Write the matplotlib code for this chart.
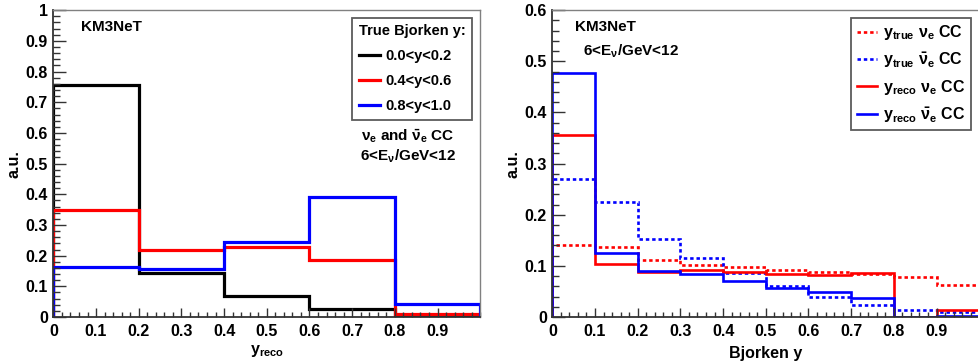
import numpy as np
import matplotlib
matplotlib.use("Agg")
import matplotlib.pyplot as plt
from matplotlib.ticker import MultipleLocator, FormatStrFormatter

plt.rcParams['font.family'] = ['Liberation Sans', 'DejaVu Sans']
plt.rcParams['font.weight'] = 'bold'
plt.rcParams['mathtext.fontset'] = 'custom'
plt.rcParams['mathtext.rm'] = 'Liberation Sans:bold'
plt.rcParams['mathtext.it'] = 'Liberation Sans:bold'
plt.rcParams['mathtext.bf'] = 'Liberation Sans:bold'

# Left panel: y_reco distributions for true Bjorken y ranges
edges_left = [0.0, 0.2, 0.4, 0.6, 0.8, 1.0]
left_labels = ["0.0<y<0.2", "0.4<y<0.6", "0.8<y<1.0"]
left_colors = ["black", "#ff0000", "#0000ff"]
y_low = [0.755, 0.144, 0.069, 0.025, 0.002]
y_mid = [0.350, 0.220, 0.228, 0.187, 0.009]
y_high = [0.163, 0.155, 0.243, 0.390, 0.043]

# Right panel: true vs reco Bjorken y
edges_right = [0.0, 0.1, 0.2, 0.3, 0.4, 0.5, 0.6, 0.7, 0.8, 0.9, 1.0]
true_nue = [0.141, 0.137, 0.112, 0.101, 0.098, 0.092, 0.088, 0.084, 0.078, 0.063]
true_nuebar = [0.270, 0.224, 0.153, 0.115, 0.087, 0.060, 0.039, 0.023, 0.014, 0.009]
reco_nue = [0.355, 0.103, 0.089, 0.092, 0.088, 0.085, 0.083, 0.087, 0.0, 0.013]
reco_nuebar = [0.478, 0.126, 0.091, 0.084, 0.071, 0.056, 0.048, 0.038, 0.0, 0.003]
right_labels = [r"y$_{\mathrm{true}}$ $\nu_e$ CC", r"y$_{\mathrm{true}}$ $\bar{\nu}_e$ CC",
                r"y$_{\mathrm{reco}}$ $\nu_e$ CC", r"y$_{\mathrm{reco}}$ $\bar{\nu}_e$ CC"]

fig = plt.figure(figsize=(9.79, 3.64), dpi=100)
ax1 = fig.add_axes([0.0545, 0.129, 0.436, 0.843])
ax2 = fig.add_axes([0.5642, 0.129, 0.436, 0.843])


def root_style(ax, ymax, ymajor):
    ax.set_xlim(0, 1)
    ax.set_ylim(0, ymax)
    ax.yaxis.set_major_locator(MultipleLocator(ymajor))
    ax.yaxis.set_minor_locator(MultipleLocator(ymajor / 5))
    ax.set_xticks([0, 0.1, 0.2, 0.3, 0.4, 0.5, 0.6, 0.7, 0.8, 0.9])
    ax.set_xticks(np.arange(0, 1.001, 0.02), minor=True)
    ax.xaxis.set_major_formatter(FormatStrFormatter('%g'))
    ax.yaxis.set_major_formatter(FormatStrFormatter('%g'))
    ax.tick_params(axis='both', which='both', direction='in', top=False, right=False,
                   labelsize=11.5, colors='#333333', labelcolor='black')
    ax.tick_params(axis='y', which='major', length=9.5, width=1, pad=4)
    ax.tick_params(axis='y', which='minor', length=5, width=1)
    ax.tick_params(axis='x', which='major', length=6.5, width=1, pad=5)
    ax.tick_params(axis='x', which='minor', length=3.5, width=1)
    for s in ['left', 'bottom']:
        ax.spines[s].set_color('#333333')
        ax.spines[s].set_linewidth(1.3)
    for s in ['top', 'right']:
        ax.spines[s].set_color('#808080')
        ax.spines[s].set_linewidth(1.0)
    for lab in ax.get_xticklabels() + ax.get_yticklabels():
        lab.set_fontweight('bold')


# Left panel
for vals, col, lab in zip([y_low, y_mid, y_high], left_colors, left_labels):
    ax1.stairs(vals, edges_left, color=col, lw=2.3, label=lab)
root_style(ax1, 1.0, 0.1)
ax1.set_ylabel("a.u.", fontsize=11.5, fontweight='bold', labelpad=3)
ax1.set_xlabel(r"y$_{\mathrm{reco}}$", fontsize=11.5, fontweight='bold', labelpad=3)
ax1.text(0.065, 0.945, "KM3NeT", transform=ax1.transAxes, fontsize=11, fontweight='bold', va='center')
ax1.text(0.83, 0.59, r"$\nu_e$ and $\bar{\nu}_e$ CC", transform=ax1.transAxes,
         fontsize=11, fontweight='bold', ha='center', va='center')
ax1.text(0.83, 0.525, r"6<E$_{\nu}$/GeV<12", transform=ax1.transAxes,
         fontsize=11, fontweight='bold', ha='center', va='center')
leg1 = ax1.legend(loc='upper right', bbox_to_anchor=(0.981, 0.975), borderaxespad=0,
                  title="True Bjorken y:", fontsize=10.5, title_fontsize=10.5, frameon=True,
                  fancybox=False, edgecolor='#333333', handlelength=1.45, handletextpad=0.4,
                  borderpad=0.45, labelspacing=0.75, alignment='left')
leg1.get_frame().set_linewidth(1.3)
leg1.get_title().set_fontweight('bold')
for t in leg1.get_texts():
    t.set_fontweight('bold')

# Right panel
ax2.stairs(true_nue, edges_right, color='#ff0000', lw=1.9, linestyle=(0, (1.3, 1.1)), label=right_labels[0])
ax2.stairs(true_nuebar, edges_right, color='#0000ff', lw=1.9, linestyle=(0, (1.3, 1.1)), label=right_labels[1])
ax2.stairs(reco_nue, edges_right, color='#ff0000', lw=1.9, label=right_labels[2])
ax2.stairs(reco_nuebar, edges_right, color='#0000ff', lw=1.9, label=right_labels[3])
root_style(ax2, 0.6, 0.1)
ax2.set_ylabel("a.u.", fontsize=11.5, fontweight='bold', labelpad=3)
ax2.set_xlabel("Bjorken y", fontsize=11.5, fontweight='bold', labelpad=5)
ax2.text(0.053, 0.945, "KM3NeT", transform=ax2.transAxes, fontsize=11, fontweight='bold', va='center')
ax2.text(0.072, 0.865, r"6<E$_{\nu}$/GeV<12", transform=ax2.transAxes, fontsize=11,
         fontweight='bold', va='center')
leg2 = ax2.legend(loc='upper right', bbox_to_anchor=(0.981, 0.975), borderaxespad=0,
                  fontsize=11.5, frameon=True, fancybox=False, edgecolor='#333333',
                  handlelength=1.3, handletextpad=0.35, borderpad=0.35, labelspacing=0.5)
leg2.get_frame().set_linewidth(1.3)
for t in leg2.get_texts():
    t.set_fontweight('bold')

fig.savefig("out.png", dpi=100)
